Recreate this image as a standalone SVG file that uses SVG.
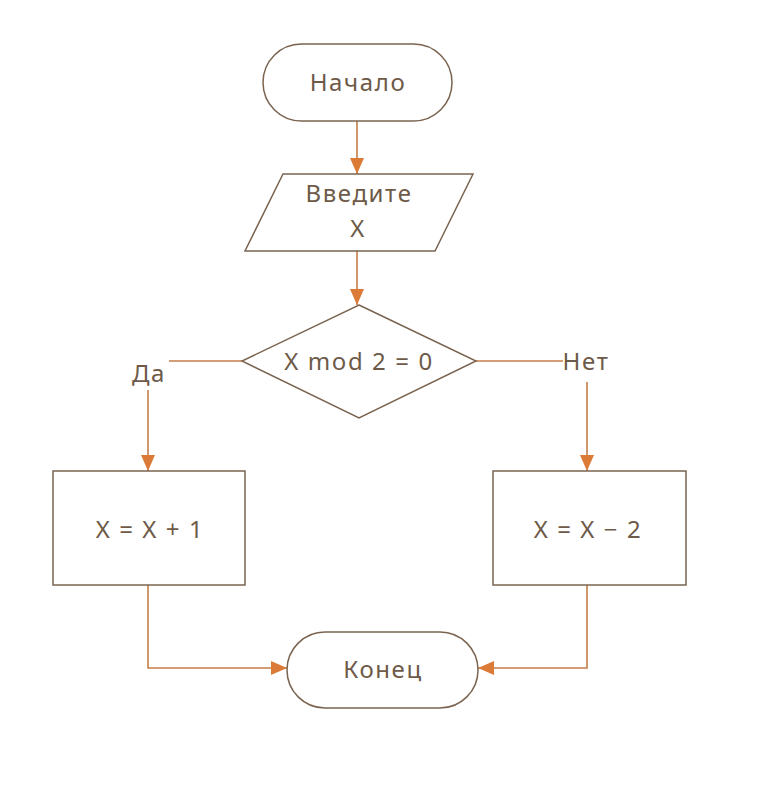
<svg xmlns="http://www.w3.org/2000/svg" width="766" height="794" viewBox="0 0 766 794">
<defs>
<style>
.shape{fill:#ffffff;stroke:#7a6450;stroke-width:1.5}
.conn{fill:none;stroke:#c47d48;stroke-width:1.6}
.t{font-family:"Noto Sans","Open Sans",sans-serif;font-size:24px;letter-spacing:1.6px;fill:#6e5a48;text-anchor:middle}
</style>
<marker id="ah" viewBox="0 0 16 14" refX="16" refY="7" markerWidth="16" markerHeight="14" markerUnits="userSpaceOnUse" orient="auto">
<path d="M0,0 L16,7 L0,14 Z" fill="#dc7a38"/>
</marker>
</defs>
<rect width="766" height="794" fill="#ffffff"/>
<g id="connectors">
<line class="conn" x1="357" y1="121" x2="357" y2="174" marker-end="url(#ah)"/>
<line class="conn" x1="357" y1="251" x2="357" y2="305" marker-end="url(#ah)"/>
<line class="conn" x1="242" y1="361" x2="169" y2="361"/>
<line class="conn" x1="148" y1="390" x2="148" y2="471" marker-end="url(#ah)"/>
<line class="conn" x1="476" y1="361" x2="563" y2="361"/>
<line class="conn" x1="587" y1="382" x2="587" y2="471" marker-end="url(#ah)"/>
<polyline class="conn" points="148,585 148,668 287,668" marker-end="url(#ah)"/>
<polyline class="conn" points="587,585 587,668 478,668" marker-end="url(#ah)"/>
<text class="t" x="149" y="382">Да</text>
<text class="t" x="586" y="370">Нет</text>
</g>
<g id="start">
<rect class="shape" x="263" y="44" width="189" height="77" rx="38.5"/>
<text class="t" x="358" y="91">Начало</text>
</g>
<g id="input">
<polygon class="shape" points="283,174 473,174 435,251 245,251"/>
<text class="t" x="359" y="202">Введите</text>
<text class="t" x="358" y="237">X</text>
</g>
<g id="decision">
<polygon class="shape" points="359,305 476,361 359,418 242,361"/>
<text class="t" x="359" y="370">X mod 2 = 0</text>
</g>
<g id="inc">
<rect class="shape" x="53" y="471" width="192" height="114"/>
<text class="t" x="150" y="538">X = X + 1</text>
</g>
<g id="dec">
<rect class="shape" x="493" y="471" width="193" height="114"/>
<text class="t" x="588" y="538">X = X − 2</text>
</g>
<g id="end">
<rect class="shape" x="287" y="632" width="191" height="76" rx="38"/>
<text class="t" x="383" y="678">Конец</text>
</g>
</svg>
